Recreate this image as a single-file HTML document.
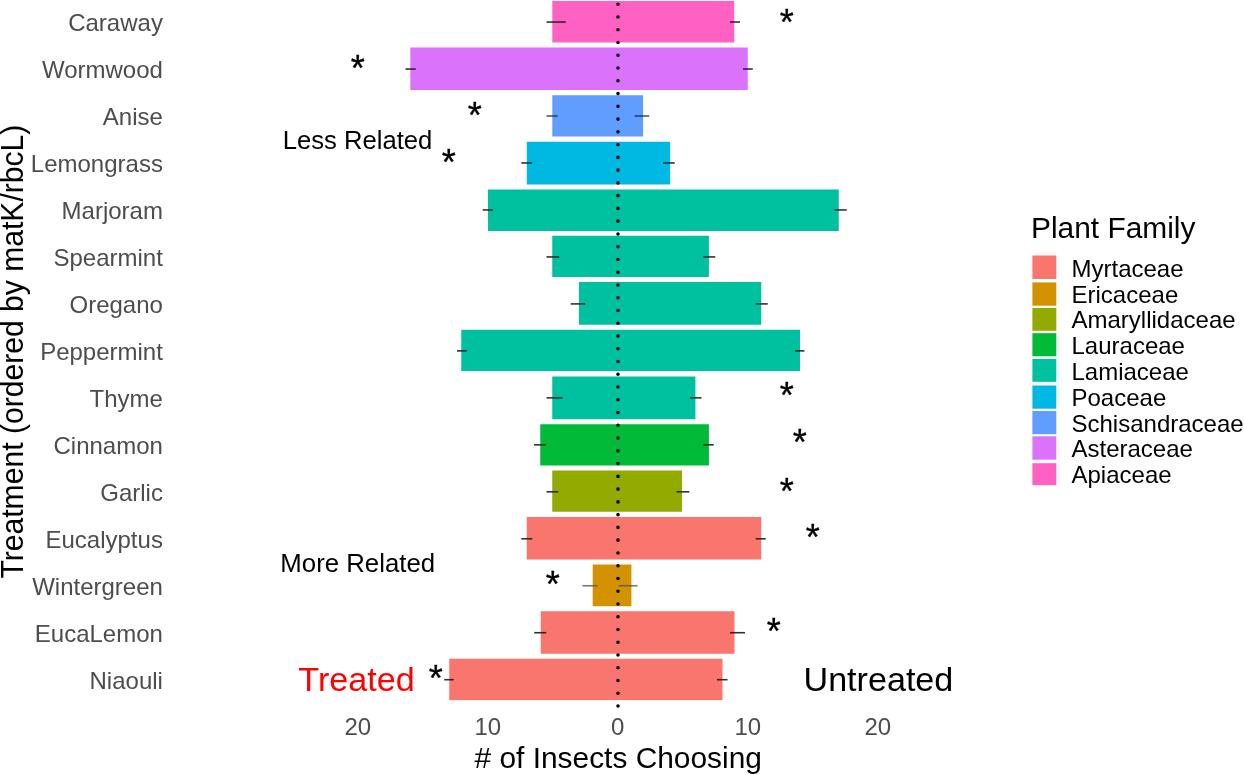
<!DOCTYPE html>
<html lang="en">
<head>
<meta charset="utf-8">
<title>Insect choice by treatment</title>
<style>
html,body{margin:0;padding:0;background:#fff;}
body{width:1244px;height:775px;overflow:hidden;}
svg{display:block;font-family:"Liberation Sans",Arial,Helvetica,sans-serif;}
.yl{font-size:24.0px;fill:#4d4d4d;text-anchor:end;}
.xl{font-size:24.0px;fill:#4d4d4d;text-anchor:middle;}
.ttl{font-size:29.9px;fill:#000;}
.lg{font-size:24.0px;fill:#000;}
.an{font-size:25.1px;fill:#000;text-anchor:middle;}
.big{font-size:33.0px;text-anchor:middle;}
.st{font-size:36.0px;fill:#000;text-anchor:middle;stroke:#000;stroke-width:.35;}
.eb{stroke:#1c1c1c;stroke-width:1.6;stroke-opacity:.9;}
</style>
</head>
<body>
<svg width="1244" height="775" viewBox="0 0 1244 775">
<rect x="0" y="0" width="1244" height="775" fill="#ffffff"/>
<g shape-rendering="geometricPrecision">
<rect x="552.30" y="1.00" width="181.95" height="41.50" fill="#FF61C3"/>
<rect x="410.30" y="47.50" width="337.45" height="42.50" fill="#DB72FB"/>
<rect x="552.30" y="95.25" width="90.80" height="41.25" fill="#619CFF"/>
<rect x="526.80" y="141.75" width="143.30" height="42.75" fill="#00B9E3"/>
<rect x="488.00" y="189.50" width="350.75" height="41.50" fill="#00C19F"/>
<rect x="552.25" y="235.75" width="156.65" height="41.25" fill="#00C19F"/>
<rect x="579.00" y="282.00" width="182.25" height="42.75" fill="#00C19F"/>
<rect x="461.25" y="329.75" width="338.75" height="41.25" fill="#00C19F"/>
<rect x="552.25" y="376.50" width="143.15" height="42.75" fill="#00C19F"/>
<rect x="540.25" y="424.25" width="168.65" height="41.25" fill="#00BA38"/>
<rect x="552.25" y="470.50" width="129.75" height="41.25" fill="#93AA00"/>
<rect x="526.75" y="517.00" width="234.50" height="42.50" fill="#F8766D"/>
<rect x="592.70" y="564.50" width="38.70" height="41.75" fill="#D39200"/>
<rect x="540.75" y="611.25" width="193.75" height="42.50" fill="#F8766D"/>
<rect x="449.25" y="658.75" width="273.25" height="41.35" fill="#F8766D"/>
</g>
<line x1="618.00" y1="4.25" x2="618.00" y2="707" stroke="#000" stroke-width="3.6" stroke-linecap="round" stroke-dasharray="0.01 12.75"/>
<g class="eb">
<line x1="546.50" y1="22.05" x2="565.75" y2="22.05"/>
<line x1="730.00" y1="22.05" x2="740.00" y2="22.05"/>
<line x1="405.50" y1="69.02" x2="415.75" y2="69.02"/>
<line x1="743.00" y1="69.02" x2="752.75" y2="69.02"/>
<line x1="546.50" y1="116.00" x2="557.50" y2="116.00" stroke-opacity=".72"/>
<line x1="634.50" y1="116.00" x2="649.25" y2="116.00" stroke-opacity=".72"/>
<line x1="521.25" y1="162.98" x2="532.00" y2="162.98"/>
<line x1="663.00" y1="162.98" x2="674.75" y2="162.98"/>
<line x1="482.75" y1="209.95" x2="493.00" y2="209.95"/>
<line x1="834.25" y1="209.95" x2="846.75" y2="209.95"/>
<line x1="546.50" y1="256.93" x2="559.25" y2="256.93"/>
<line x1="703.25" y1="256.93" x2="715.25" y2="256.93"/>
<line x1="570.75" y1="303.90" x2="585.25" y2="303.90"/>
<line x1="755.75" y1="303.90" x2="767.75" y2="303.90"/>
<line x1="457.00" y1="350.88" x2="466.75" y2="350.88"/>
<line x1="795.00" y1="350.88" x2="804.50" y2="350.88"/>
<line x1="546.50" y1="397.85" x2="562.50" y2="397.85"/>
<line x1="690.00" y1="397.85" x2="701.50" y2="397.85"/>
<line x1="534.00" y1="444.83" x2="546.00" y2="444.83"/>
<line x1="703.25" y1="444.83" x2="713.75" y2="444.83"/>
<line x1="546.50" y1="491.80" x2="558.25" y2="491.80"/>
<line x1="676.50" y1="491.80" x2="689.25" y2="491.80"/>
<line x1="521.25" y1="538.77" x2="532.25" y2="538.77"/>
<line x1="755.75" y1="538.77" x2="765.75" y2="538.77"/>
<line x1="582.50" y1="585.75" x2="597.50" y2="585.75" stroke="#555" stroke-opacity=".8"/>
<line x1="618.75" y1="585.75" x2="637.50" y2="585.75" stroke="#555" stroke-opacity=".8"/>
<line x1="534.25" y1="632.73" x2="546.25" y2="632.73"/>
<line x1="730.00" y1="632.73" x2="745.00" y2="632.73"/>
<line x1="444.25" y1="679.70" x2="453.75" y2="679.70"/>
<line x1="717.00" y1="679.70" x2="727.50" y2="679.70"/>
</g>
<text class="yl" x="162.9" y="30.85">Caraway</text>
<text class="yl" x="162.9" y="77.82">Wormwood</text>
<text class="yl" x="162.9" y="124.80">Anise</text>
<text class="yl" x="162.9" y="171.78">Lemongrass</text>
<text class="yl" x="162.9" y="218.75">Marjoram</text>
<text class="yl" x="162.9" y="265.73">Spearmint</text>
<text class="yl" x="162.9" y="312.70">Oregano</text>
<text class="yl" x="162.9" y="359.68">Peppermint</text>
<text class="yl" x="162.9" y="406.65">Thyme</text>
<text class="yl" x="162.9" y="453.63">Cinnamon</text>
<text class="yl" x="162.9" y="500.60">Garlic</text>
<text class="yl" x="162.9" y="547.58">Eucalyptus</text>
<text class="yl" x="162.9" y="594.55">Wintergreen</text>
<text class="yl" x="162.9" y="641.53">EucaLemon</text>
<text class="yl" x="162.9" y="688.50">Niaouli</text>
<text class="xl" x="357.75" y="735.4">20</text>
<text class="xl" x="487.75" y="735.4">10</text>
<text class="xl" x="617.75" y="735.4">0</text>
<text class="xl" x="747.75" y="735.4">10</text>
<text class="xl" x="877.75" y="735.4">20</text>
<text class="ttl" x="618.2" y="768.3" text-anchor="middle"># of Insects Choosing</text>
<text class="ttl" transform="translate(23.2,351.6) rotate(-90) scale(1.007,1.04)" text-anchor="middle">Treatment (ordered by matK/rbcL)</text>
<text class="an" transform="translate(357.5,148.7) scale(1.022,1)">Less Related</text>
<text class="an" transform="translate(357.7,572.2) scale(1.028,1)">More Related</text>
<text class="big" transform="translate(356.6,691.3) scale(1.036,1)" fill="#ff0000">Treated</text>
<text class="big" transform="translate(878.4,691.3) scale(1.034,1)" fill="#000000">Untreated</text>
<text class="st" x="786.75" y="34.75">*</text>
<text class="st" x="357.75" y="80.72">*</text>
<text class="st" x="474.75" y="127.70">*</text>
<text class="st" x="448.75" y="174.68">*</text>
<text class="st" x="786.75" y="408.25">*</text>
<text class="st" x="799.75" y="455.13">*</text>
<text class="st" x="786.75" y="503.50">*</text>
<text class="st" x="812.75" y="550.48">*</text>
<text class="st" x="552.75" y="597.45">*</text>
<text class="st" x="773.75" y="644.43">*</text>
<text class="st" x="435.75" y="691.40">*</text>
<text class="ttl" x="1031.0" y="238.3">Plant Family</text>
<rect x="1032.4" y="255.50" width="23.9" height="23.50" fill="#F8766D"/>
<text class="lg" x="1071.5" y="276.70">Myrtaceae</text>
<rect x="1032.4" y="282.40" width="23.9" height="23.30" fill="#D39200"/>
<text class="lg" x="1071.5" y="302.50">Ericaceae</text>
<rect x="1032.4" y="307.90" width="23.9" height="22.90" fill="#93AA00"/>
<text class="lg" x="1071.5" y="328.30">Amaryllidaceae</text>
<rect x="1032.4" y="333.20" width="23.9" height="23.10" fill="#00BA38"/>
<text class="lg" x="1071.5" y="354.10">Lauraceae</text>
<rect x="1032.4" y="359.00" width="23.9" height="22.80" fill="#00C19F"/>
<text class="lg" x="1071.5" y="379.90">Lamiaceae</text>
<rect x="1032.4" y="385.50" width="23.9" height="23.20" fill="#00B9E3"/>
<text class="lg" x="1071.5" y="405.70">Poaceae</text>
<rect x="1032.4" y="411.00" width="23.9" height="23.20" fill="#619CFF"/>
<text class="lg" x="1071.5" y="431.50">Schisandraceae</text>
<rect x="1032.4" y="436.30" width="23.9" height="23.40" fill="#DB72FB"/>
<text class="lg" x="1071.5" y="457.30">Asteraceae</text>
<rect x="1032.4" y="463.20" width="23.9" height="22.00" fill="#FF61C3"/>
<text class="lg" x="1071.5" y="483.10">Apiaceae</text>
</svg>
</body>
</html>
